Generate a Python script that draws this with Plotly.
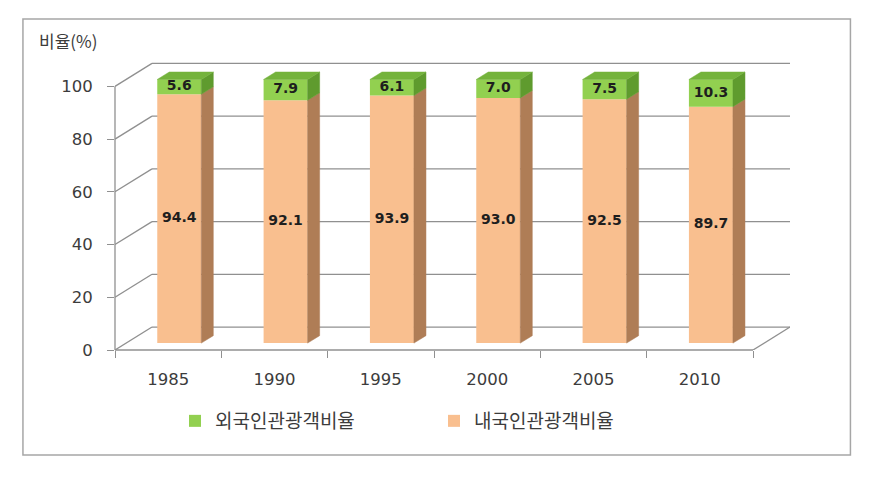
import plotly.graph_objects as go

# ---------------- data ----------------
years = ["1985", "1990", "1995", "2000", "2005", "2010"]
foreign = [5.6, 7.9, 6.1, 7.0, 7.5, 10.3]       # 외국인관광객비율
domestic = [94.4, 92.1, 93.9, 93.0, 92.5, 89.7]  # 내국인관광객비율
y_ticks = [0, 20, 40, 60, 80, 100]
series_names = ["외국인관광객비율", "내국인관광객비율"]
y_title = "비율(%)"

# ---------------- style / geometry constants ----------------
W, H = 888, 478
PLOT_L, PLOT_R, PLOT_T, PLOT_B = 115, 789.6, 60, 350
DX, DY = 0.348, 8.71          # full-depth oblique projection in axis units
F0, F1 = 0.30, 0.625          # bar front / back depth fraction
BW = 0.414                    # bar width (x units)
n = len(years)
XMIN, XMAX = -0.5, n - 0.5
YMAX = 110

C_OR_FRONT, C_OR_SIDE = "#F9BF8F", "#AF7D56"
C_GR_FRONT, C_GR_SIDE, C_GR_TOP = "#92D050", "#5F9B2E", "#74B33C"
C_GRID = "#909090"
C_TEXT = "#3C3C3C"

xc = [i + F0 * DX for i in range(n)]
base0 = F0 * DY
s = F1 - F0

fig = go.Figure()

# front faces (bars)
fig.add_trace(go.Bar(
    x=xc, y=domestic, base=[base0] * n, width=BW, name=series_names[1],
    marker=dict(color=C_OR_FRONT, line=dict(width=0)), legendrank=2,
    hoverinfo="skip"))
fig.add_trace(go.Bar(
    x=xc, y=foreign, base=[base0 + d for d in domestic], width=BW, name=series_names[0],
    marker=dict(color=C_GR_FRONT, line=dict(width=0)), legendrank=1,
    hoverinfo="skip"))


def side_poly(bottoms, tops):
    xs, ys = [], []
    for i in range(n):
        xr = xc[i] + BW / 2
        b, t = bottoms[i], tops[i]
        xs += [xr, xr + s * DX, xr + s * DX, xr, xr, None]
        ys += [b, b + s * DY, t + s * DY, t, b, None]
    return xs, ys


def top_poly(tops):
    xs, ys = [], []
    for i in range(n):
        xl = xc[i] - BW / 2
        xr = xc[i] + BW / 2
        t = tops[i]
        xs += [xl, xr, xr + s * DX, xl + s * DX, xl, None]
        ys += [t, t, t + s * DY, t + s * DY, t, None]
    return xs, ys


or_bottom = [base0] * n
or_top = [base0 + d for d in domestic]
gr_top = [base0 + d + f for d, f in zip(domestic, foreign)]

for (xs, ys), col in [
    (side_poly(or_bottom, or_top), C_OR_SIDE),
    (side_poly(or_top, gr_top), C_GR_SIDE),
    (top_poly(gr_top), C_GR_TOP),
]:
    fig.add_trace(go.Scatter(
        x=xs, y=ys, mode="lines", fill="toself", fillcolor=col,
        line=dict(color=col, width=0.5), showlegend=False, hoverinfo="skip"))

# value labels
lbl_font = dict(family="DejaVu Sans", size=14, color="#1E1E1E", weight="bold")
fig.add_trace(go.Scatter(
    x=xc, y=[base0 + d / 2 for d in domestic], mode="text",
    text=[f"{v:.1f}" for v in domestic], textfont=lbl_font,
    showlegend=False, hoverinfo="skip"))
fig.add_trace(go.Scatter(
    x=xc, y=[base0 + d + f / 2 for d, f in zip(domestic, foreign)], mode="text",
    text=[f"{v:.1f}" for v in foreign], textfont=lbl_font,
    showlegend=False, hoverinfo="skip"))

# ---------------- walls / frame ----------------
shapes = []
gl = dict(color=C_GRID, width=1.3)
for v in y_ticks:
    shapes.append(dict(type="line", xref="x", yref="y", layer="below",
                       x0=XMIN + DX, x1=XMAX + DX, y0=v + DY, y1=v + DY, line=gl))
    shapes.append(dict(type="line", xref="x", yref="y", layer="below",
                       x0=XMIN, x1=XMIN + DX, y0=v, y1=v + DY, line=gl))
# front value axis line
shapes.append(dict(type="line", xref="paper", yref="y", layer="below",
                   x0=0, x1=0, y0=0, y1=y_ticks[-1], line=gl))
# floor front edge and right edge
shapes.append(dict(type="line", xref="x", yref="paper", layer="below",
                   x0=XMIN, x1=XMAX, y0=0, y1=0, line=gl))
shapes.append(dict(type="line", xref="x", yref="y", layer="below",
                   x0=XMAX, x1=XMAX + DX, y0=0, y1=DY, line=gl))


# outer chart border (pixel -> paper)
def px_x(p):
    return (p - PLOT_L) / (PLOT_R - PLOT_L)


def px_y(p):
    return (PLOT_B - p) / (PLOT_B - PLOT_T)


shapes.append(dict(type="rect", xref="paper", yref="paper", layer="below",
                   x0=px_x(23), x1=px_x(850), y0=px_y(455), y1=px_y(19),
                   line=dict(color="#A6A6A6", width=1.5)))

fig.update_layout(
    width=W, height=H,
    margin=dict(l=PLOT_L, r=W - PLOT_R, t=PLOT_T, b=H - PLOT_B, autoexpand=False),
    paper_bgcolor="white", plot_bgcolor="rgba(0,0,0,0)",
    barmode="overlay", showlegend=True, shapes=shapes,
    xaxis=dict(
        range=[XMIN, XMAX + DX], showgrid=False, zeroline=False, showline=False,
        tickmode="array", tickvals=list(range(n)), ticktext=years, ticks="",
        ticklabelstandoff=17,
        tickfont=dict(family="DejaVu Sans", size=16.5, color=C_TEXT),
        minor=dict(tickmode="array", tickvals=[i - 0.5 for i in range(n + 1)],
                   ticks="outside", ticklen=7, tickcolor=C_GRID, tickwidth=1.3,
                   showgrid=False),
        fixedrange=True),
    yaxis=dict(
        range=[0, YMAX], showgrid=False, zeroline=False, showline=False,
        tickmode="array", tickvals=y_ticks, ticks="outside", ticklen=7,
        tickcolor=C_GRID, tickwidth=1.3, ticklabelstandoff=11,
        tickfont=dict(family="DejaVu Sans", size=16.5, color=C_TEXT),
        fixedrange=True),
    legend=dict(
        orientation="h", xref="container", yref="container",
        x=175 / W, y=(H - 421) / H, xanchor="left", yanchor="middle",
        entrywidth=214, entrywidthmode="pixels",
        font=dict(family="Noto Sans CJK KR", size=19, color=C_TEXT),
        bgcolor="rgba(0,0,0,0)"),
    annotations=[dict(
        text=y_title, xref="paper", yref="paper", x=px_x(37), y=px_y(41),
        xanchor="left", yanchor="middle", showarrow=False,
        font=dict(family="Noto Sans CJK KR", size=17, color=C_TEXT))],
)

fig.write_html("out.html")
